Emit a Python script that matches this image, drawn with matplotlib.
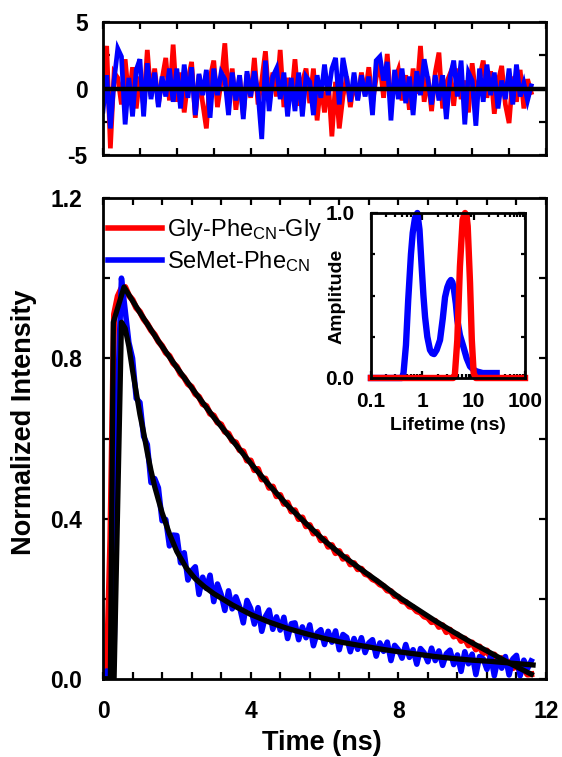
import numpy as np
import matplotlib
matplotlib.use("Agg")
import matplotlib.pyplot as plt
from matplotlib.ticker import (MultipleLocator, FixedLocator, LogLocator,
                               NullFormatter, FormatStrFormatter, FuncFormatter)

plt.rcParams['font.family'] = ['Liberation Sans', 'DejaVu Sans']
plt.rcParams['font.weight'] = 'bold'
plt.rcParams['mathtext.default'] = 'regular'
plt.rcParams['axes.unicode_minus'] = False

# ---- TCSPC decays (0.1 ns channels) ----
t_step = 0.1

gly_counts = [
    0.00, 0.01, 0.35, 0.91, 0.955, 0.975, 0.978, 0.957, 0.946, 0.926,
    0.916, 0.898, 0.886, 0.870, 0.859, 0.842, 0.831, 0.814, 0.806, 0.788,
    0.779, 0.761, 0.752, 0.736, 0.729, 0.711, 0.704, 0.686, 0.681, 0.662,
    0.657, 0.640, 0.635, 0.617, 0.612, 0.594, 0.590, 0.571, 0.568, 0.545,
    0.545, 0.521, 0.524, 0.498, 0.500, 0.477, 0.480, 0.456, 0.459, 0.437,
    0.440, 0.418, 0.421, 0.399, 0.403, 0.381, 0.384, 0.363, 0.367, 0.346,
    0.350, 0.330, 0.334, 0.314, 0.319, 0.300, 0.304, 0.286, 0.289, 0.274,
    0.275, 0.262, 0.259, 0.249, 0.245, 0.236, 0.232, 0.221, 0.219, 0.207,
    0.205, 0.194, 0.192, 0.181, 0.179, 0.169, 0.166, 0.156, 0.153, 0.142,
    0.145, 0.130, 0.134, 0.117, 0.123, 0.106, 0.111, 0.095, 0.101, 0.084,
    0.091, 0.074, 0.081, 0.064, 0.071, 0.054, 0.061, 0.045, 0.052, 0.036,
    0.043, 0.027, 0.033, 0.019, 0.024, 0.011, 0.012,
]

semet_counts = [
    0.00, 0.02, 0.01, 0.06, 0.72, 1.00, 0.92, 0.84, 0.80, 0.70,
    0.69, 0.605, 0.585, 0.49, 0.50, 0.477, 0.395, 0.398, 0.332, 0.359,
    0.358, 0.29, 0.315, 0.247, 0.27, 0.28, 0.211, 0.254, 0.226, 0.259,
    0.193, 0.237, 0.211, 0.171, 0.22, 0.175, 0.205, 0.18, 0.14, 0.196,
    0.176, 0.137, 0.178, 0.119, 0.156, 0.172, 0.124, 0.155, 0.122, 0.154,
    0.101, 0.138, 0.14, 0.098, 0.13, 0.103, 0.135, 0.083, 0.115, 0.123,
    0.086, 0.119, 0.092, 0.12, 0.073, 0.111, 0.104, 0.068, 0.101, 0.074,
    0.103, 0.066, 0.09, 0.098, 0.057, 0.09, 0.069, 0.092, 0.046, 0.084,
    0.073, 0.052, 0.086, 0.054, 0.073, 0.037, 0.076, 0.065, 0.043, 0.077,
    0.046, 0.07, 0.034, 0.063, 0.072, 0.036, 0.06, 0.019, 0.068, 0.038,
    0.062, 0.011, 0.056, 0.05, 0.024, 0.059, 0.008, 0.052, 0.027, 0.056,
    0.01, 0.05, 0.059, 0.008, 0.047, 0.026, 0.045,
]

# ---- fitted decay curves ----
gly_fit_t = [0.0, 0.20, 0.28, 0.57, 1.0, 1.5, 2.0, 2.5, 3.0, 3.5, 4.0, 4.5,
             5.0, 5.5, 6.0, 6.5, 7.0, 7.5, 8.0, 8.5, 9.0, 9.5, 10.0, 10.5,
             11.0, 11.6]
gly_fit = [0.0, 0.0, 0.89, 0.978, 0.914, 0.843, 0.777, 0.714, 0.653, 0.596,
           0.538, 0.484, 0.433, 0.388, 0.345, 0.307, 0.273, 0.240, 0.205,
           0.175, 0.145, 0.117, 0.090, 0.065, 0.040, 0.012]

semet_fit_t = [0.0, 0.30, 0.50, 0.6, 0.7, 0.8, 0.9, 1.0, 1.1, 1.2, 1.3, 1.4,
               1.5, 1.6, 1.8, 2.0, 2.25, 2.5, 2.75, 3.0, 3.5, 4.0, 4.5, 5.0,
               5.5, 6.0, 6.5, 7.0, 7.5, 8.0, 8.5, 9.0, 9.5, 10.0, 10.5, 11.0,
               11.65]
semet_fit = [0.0, 0.0, 0.89, 0.875, 0.83, 0.77, 0.715, 0.66, 0.615, 0.565,
             0.52, 0.48, 0.447, 0.415, 0.362, 0.318, 0.278, 0.250, 0.230,
             0.213, 0.185, 0.161, 0.142, 0.126, 0.113, 0.101, 0.091, 0.083,
             0.075, 0.068, 0.062, 0.056, 0.051, 0.047, 0.044, 0.040, 0.035]

# ---- weighted residuals ----
gly_resid = [
    1.0, 3.2, -4.5, 1.2, 0.8, -1.2, 2.2, -0.8, 1.6, -1.5,
    0.9, -1.3, 2.9, -0.6, 1.5, -1.2, 0.7, 2.3, -0.9, 3.3,
    -1.0, 1.2, -1.8, 0.6, 2.0, -2.2, 1.0, -1.1, -3.0, 0.8,
    2.1, -1.4, 0.5, 3.4, -0.8, 1.5, -1.6, 0.9, -2.0, 1.1,
    -0.7, 2.3, -1.2, 0.6, 2.8, -1.0, 1.2, -0.6, 2.9, -1.4,
    0.8, -0.9, 2.2, -1.3, 0.5, 1.5, -1.1, 1.5, -2.4, 0.4,
    -1.8, 0.7, -3.6, 0.5, -3.0, -0.6, 0.9, -1.4, 0.6, -0.8,
    1.2, -0.5, 1.6, -1.1, 0.8, 1.9, -0.7, 2.6, -1.2, 0.6,
    1.4, -0.9, 1.0, -1.6, 1.5, -0.4, 3.2, -1.0, 0.9, -1.7,
    1.2, 2.7, -1.5, 0.4, 1.1, -1.3, 1.5, -0.8, 0.6, -1.8,
    1.9, -0.6, 0.8, 2.1, -0.7, 1.3, -1.9, 0.5, 1.7, -1.2,
    -2.6, 0.9, -1.0, 1.4, -1.5, 0.7, -0.3,
]

semet_resid = [
    -1.7, 1.0, -3.0, 0.6, 3.0, 2.4, -2.7, 0.8, -2.1, 1.4,
    2.2, -2.1, 1.9, -0.8, 1.2, -1.4, 0.9, -0.6, 1.5, -1.0,
    1.5, -1.5, 1.8, -0.7, 1.6, -2.0, 1.1, -0.5, 1.4, -2.2,
    1.5, -0.5, 1.2, 0.7, -2.0, 1.2, -0.9, 1.0, -2.3, 1.3,
    -0.6, 1.3, -0.4, -3.8, 2.1, -1.7, 0.9, 1.5, -0.8, 1.2,
    -2.1, 0.8, -1.7, 1.2, -2.1, 0.9, 0.5, -2.0, 1.0, -0.7,
    1.8, -0.5, 1.5, 2.3, -1.2, 2.3, 0.8, -1.0, 1.2, -0.9,
    1.0, -0.6, 0.9, -2.0, 2.1, 2.4, 0.6, 2.0, -2.4, 1.4,
    -0.8, 1.5, -1.1, 0.9, -2.0, 1.3, -0.5, 2.2, 0.7, -1.2,
    1.0, -0.9, 1.0, -2.3, 0.8, 2.1, -0.6, 2.1, -2.7, 1.2,
    0.6, -2.8, 1.5, -1.0, 1.8, -0.5, 1.2, -1.5, 0.6, -0.8,
    1.5, -1.2, 1.8, -0.6, 0.4, -0.9, 0.2,
]

# ---- lifetime distributions ----
semet_tau = [0.1, 0.40, 0.43, 0.48, 0.53, 0.60, 0.65, 0.72, 0.80, 0.88, 0.97,
             1.05, 1.13, 1.25, 1.41, 1.55, 1.69, 1.90, 2.21, 2.50, 2.77, 3.07,
             3.35, 3.61, 3.85, 4.14, 4.50, 4.81, 5.40, 6.30, 7.30, 8.50, 10.0,
             11.4, 15.0, 20.0, 28.0]
semet_amp = [0.0, 0.0, 0.03, 0.20, 0.47, 0.75, 0.88, 0.97, 1.0, 0.90, 0.675,
             0.50, 0.37, 0.25, 0.17, 0.15, 0.145, 0.17, 0.23, 0.36, 0.49, 0.55,
             0.58, 0.594, 0.58, 0.533, 0.45, 0.35, 0.26, 0.19, 0.12, 0.07,
             0.05, 0.04, 0.03, 0.03, 0.03]

gly_tau = [0.1, 4.0, 4.3, 4.8, 5.4, 6.1, 6.8, 7.3, 7.65, 8.5, 9.2, 10.0, 11.0, 100.0]
gly_amp = [0.0, 0.0, 0.02, 0.23, 0.675, 0.96, 1.0, 0.98, 0.92, 0.575, 0.23, 0.03, 0.0, 0.0]

RED = '#ff0000'
BLUE = '#0000ff'

time_ns = np.arange(len(gly_counts)) * t_step
resid_t = np.arange(len(gly_resid)) * t_step

W, H = 562, 757
fig = plt.figure(figsize=(W / 100, H / 100), dpi=100)


def box(l, t, r, b):
    return [l / W, 1 - b / H, (r - l) / W, (b - t) / H]


def style_axes(ax, size):
    for s in ax.spines.values():
        s.set_linewidth(2.0)
    ax.tick_params(which='both', direction='in', top=True, right=True,
                   width=1.6, labelsize=size)
    ax.tick_params(which='major', length=5)
    ax.tick_params(which='minor', length=5)


# residual panel
ax_r = fig.add_axes(box(103, 22, 546, 155))
ax_r.plot(resid_t, gly_resid, color=RED, lw=3.4, solid_joinstyle='miter')
ax_r.plot(resid_t, semet_resid, color=BLUE, lw=3.4, solid_joinstyle='miter')
ax_r.axhline(0, color='black', lw=3.2)
ax_r.set_xlim(0, 12)
ax_r.set_ylim(-5, 5)
ax_r.xaxis.set_major_locator(MultipleLocator(1))
ax_r.yaxis.set_major_locator(FixedLocator([-5, 0, 5]))
ax_r.yaxis.set_minor_locator(FixedLocator([-2.5, 2.5]))
ax_r.set_xticklabels([])
style_axes(ax_r, 16.5)
ax_r.tick_params(axis='y', pad=11)

# decay panel
ax = fig.add_axes(box(103, 198, 546, 679))
ax.plot(time_ns, gly_counts, color=RED, lw=4.4, label='Gly-Phe$_{CN}$-Gly')
ax.plot(time_ns, semet_counts, color=BLUE, lw=4.0, label='SeMet-Phe$_{CN}$')
ax.plot(gly_fit_t, gly_fit, color='black', lw=3.8)
ax.plot(semet_fit_t, semet_fit, color='black', lw=3.8)
ax.set_xlim(0, 12)
ax.set_ylim(0, 1.2)
ax.xaxis.set_major_locator(MultipleLocator(4))
ax.xaxis.set_minor_locator(MultipleLocator(0.8))
ax.yaxis.set_major_locator(MultipleLocator(0.4))
ax.yaxis.set_minor_locator(MultipleLocator(0.2))
ax.yaxis.set_major_formatter(FormatStrFormatter('%.1f'))
style_axes(ax, 16.5)
ax.tick_params(axis='y', pad=15)
ax.tick_params(axis='x', pad=15)
leg = ax.legend(loc='upper left', bbox_to_anchor=(0.0, 0.97), frameon=False,
                handlelength=2.3, handletextpad=0.2, labelspacing=0.25,
                borderaxespad=0.0, borderpad=0.2,
                prop={'weight': 'normal', 'size': 17})
for h in leg.get_lines():
    h.set_linewidth(4.0)

fig.text(24 / W, 1 - 422 / H, 'Normalized Intensity', rotation=90,
         ha='center', va='center', fontsize=19.5, fontweight='bold')
fig.text(322 / W, 1 - 743 / H, 'Time (ns)', ha='center', va='center',
         fontsize=19.5, fontweight='bold')

# lifetime distribution inset
ax_i = fig.add_axes(box(371, 213, 525, 378))
ax_i.plot(semet_tau, semet_amp, color=BLUE, lw=4.6, clip_on=False,
          solid_joinstyle='round')
ax_i.plot(gly_tau, gly_amp, color=RED, lw=4.6, clip_on=False,
          solid_joinstyle='round')
ax_i.set_xscale('log')
ax_i.set_xlim(0.1, 100)
ax_i.set_ylim(0, 1.0)
ax_i.xaxis.set_major_locator(LogLocator(base=10))
ax_i.xaxis.set_minor_locator(LogLocator(base=10, subs=np.arange(2, 10)))
ax_i.xaxis.set_minor_formatter(NullFormatter())
ax_i.xaxis.set_major_formatter(FuncFormatter(lambda v, p: f'{v:g}'))
ax_i.yaxis.set_major_locator(FixedLocator([0.0, 1.0]))
ax_i.yaxis.set_minor_locator(FixedLocator([0.25, 0.5, 0.75]))
ax_i.yaxis.set_major_formatter(FormatStrFormatter('%.1f'))
style_axes(ax_i, 15)
ax_i.tick_params(which='minor', length=3)
ax_i.tick_params(axis='y', pad=12)
ax_i.tick_params(axis='x', pad=10)
fig.text(337 / W, 1 - 296 / H, 'Amplitude', rotation=90, ha='center',
         va='center', fontsize=14, fontweight='bold')
fig.text(448 / W, 1 - 425 / H, 'Lifetime (ns)', ha='center', va='center',
         fontsize=14, fontweight='bold')

fig.savefig('out.png', dpi=100)
